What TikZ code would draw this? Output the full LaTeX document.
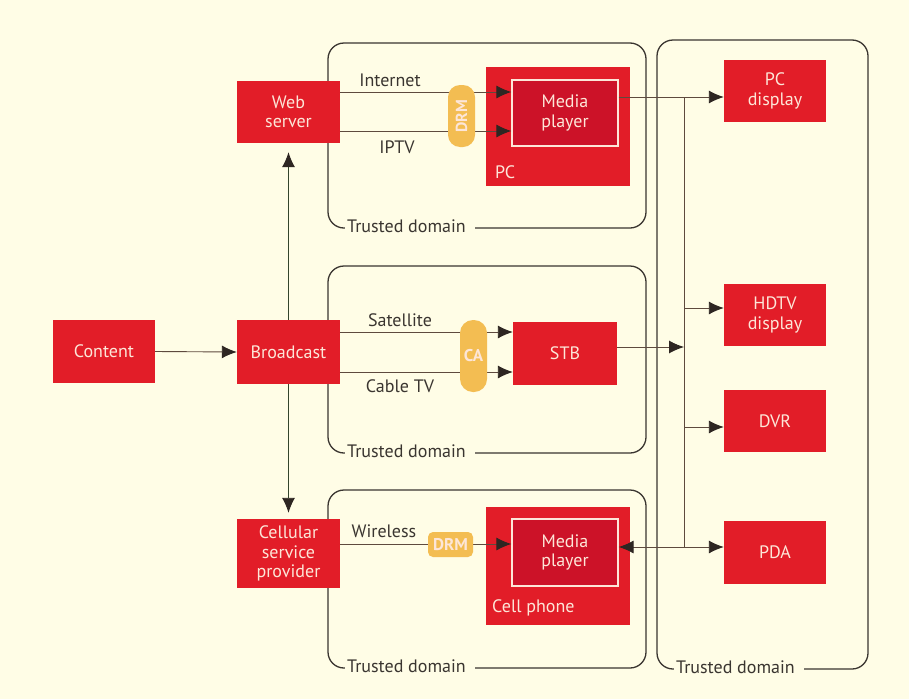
\documentclass[tikz,border=0pt]{standalone}
\usepackage{fontspec}
\setmainfont{PT Sans}
\usetikzlibrary{arrows.meta}
\definecolor{bg}{HTML}{FFFDE6}
\definecolor{boxred}{HTML}{E21D28}
\definecolor{mpred}{HTML}{CC1228}
\definecolor{pillc}{HTML}{F3BD52}
\definecolor{txt}{HTML}{FDE6D8}
\definecolor{ln}{HTML}{5E4A3E}
\definecolor{dk}{HTML}{3A3530}
\definecolor{tip}{HTML}{2E2622}
\definecolor{gr}{HTML}{34452C}
\begin{document}
\begin{tikzpicture}[x=1pt,y=-1pt,
  redbox/.style={fill=boxred, text=txt, align=center, inner sep=0pt,
    font=\fontsize{18}{19.5}\selectfont},
  mpbox/.style={fill=mpred, draw=txt, line width=1.3pt, text=txt, align=center,
    inner sep=0pt, font=\fontsize{18}{19.5}\selectfont, minimum width=106pt, minimum height=66pt},
  pillbox/.style={fill=pillc, text=txt, rounded corners=12pt, inner sep=0pt,
    font=\bfseries\fontsize{17}{19}\selectfont},
  domainbox/.style={draw=dk, line width=1.3pt, rounded corners=16pt, inner sep=0pt},
  domlabel/.style={fill=bg, text=dk, inner sep=2pt, anchor=west,
    font=\fontsize{18}{20}\selectfont},
  lbl/.style={text=dk, inner sep=0pt, font=\fontsize{18}{20}\selectfont},
  conn/.style={draw=ln, line width=0.9pt},
  arr/.style={conn, -{Latex[length=15pt,width=13pt,color=tip]}},
]
\useasboundingbox (0,0) rectangle (909,699);
\fill[bg] (0,0) rectangle (909,699);

% trusted domains
\node[domainbox, minimum width=318pt, minimum height=185pt] (d1) at (487,135.5) {};
\node[domainbox, minimum width=318pt, minimum height=187pt] (d2) at (487,359.5) {};
\node[domainbox, minimum width=318pt, minimum height=178pt] (d3) at (487,579) {};
\node[domainbox, minimum width=211pt, minimum height=629pt] (d4) at (762.5,354.5) {};
\node[domlabel] (t1) at (345,226) {Trusted domain\kern7pt};
\node[domlabel] (t2) at (345,451) {Trusted domain\kern7pt};
\node[domlabel] (t3) at (345,666) {Trusted domain\kern7pt};
\node[domlabel] (t4) at (674,667) {Trusted domain\kern7pt};

% left column
\node[redbox, minimum width=102pt, minimum height=63pt] (content) at (104,351.5) {Content};
\node[redbox, minimum width=103pt, minimum height=64pt] (bc) at (288.5,352) {Broadcast};
\node[redbox, minimum width=103pt, minimum height=62pt] (ws) at (288.5,112) {Web\\server};
\node[redbox, minimum width=103pt, minimum height=69pt] (cell) at (288.5,553.5) {Cellular\\service\\provider};

% PC
\node[redbox, minimum width=144pt, minimum height=119pt] (pc) at (558,126.5) {};
\node[mpbox] (mp1) at (565,113) {Media\\player};
\node[lbl, text=txt, anchor=west] (pclbl) at (495,172) {PC};

% STB
\node[redbox, minimum width=104pt, minimum height=63pt] (stb) at (565,353.5) {STB};

% Cell phone
\node[redbox, minimum width=144pt, minimum height=118pt] (phone) at (558,566) {};
\node[mpbox, minimum height=67pt] (mp2) at (565,552.5) {Media\\player};
\node[lbl, text=txt, anchor=west] (phlbl) at (492,608) {Cell phone};

% right column
\node[redbox, minimum width=102pt, minimum height=62pt] (pcd) at (775,91) {PC\\display};
\node[redbox, minimum width=102pt, minimum height=62pt] (hdtv) at (775,315) {HDTV\\display};
\node[redbox, minimum width=102pt, minimum height=62pt] (dvr) at (775,421) {DVR};
\node[redbox, minimum width=102pt, minimum height=63pt] (pda) at (775,552) {PDA};

% connectors, left
\draw[arr] (content.east) -- (bc.west);
\draw[arr, draw=gr, shorten >=9pt] (bc.north) -- (ws.south);
\draw[arr, draw=gr, shorten >=6pt] (bc.south) -- (cell.north);

% internet / iptv
\draw[arr] (ws.east |- 0,92) -- (mp1.west |- 0,92);
\draw[arr] (ws.east |- 0,131) -- (mp1.west |- 0,131);
\node[lbl] (inet) at (390,80) {Internet};
\node[lbl] (iptv) at (397,147) {IPTV};
\node[pillbox, minimum width=27pt, minimum height=62pt] (drm1) at (461.5,116) {};
\node[rotate=90, text=txt, inner sep=0pt, font=\bfseries\fontsize{16}{18}\selectfont] (drm1t) at (drm1.center) {DRM};

% satellite / cable
\draw[arr] (bc.east |- 0,332) -- (stb.west |- 0,332);
\draw[arr] (bc.east |- 0,372) -- (stb.west |- 0,372);
\node[lbl] (sat) at (400,320) {Satellite};
\node[lbl] (cab) at (400,386) {Cable TV};
\node[pillbox, rounded corners=13pt, minimum width=27pt, minimum height=72pt] (ca) at (473.5,356) {CA};

% wireless
\draw[arr] (cell.east |- 0,544) -- (mp2.west |- 0,544);
\node[lbl] (wl) at (384,531) {Wireless};
\node[pillbox, rounded corners=5pt, minimum width=45pt, minimum height=25pt] (drm2) at (450.5,544.5) {DRM};

% bus
\coordinate (b1) at (684,97);
\coordinate (b2) at (684,308);
\coordinate (b3) at (684,347);
\coordinate (b4) at (684,427);
\coordinate (b5) at (684,547);
\draw[conn] (b1) -- (b5);
\draw[arr] (mp1.east |- b1) -- (pcd.west |- b1);
\draw[arr] (b2) -- (hdtv.west |- b2);
\draw[arr] (stb.east |- b3) -- (b3);
\draw[arr] (b4) -- (dvr.west |- b4);
\draw[arr] (b5) -- (pda.west |- b5);
\draw[arr] (b5) -- (mp2.east |- b5);
\end{tikzpicture}
\end{document}
